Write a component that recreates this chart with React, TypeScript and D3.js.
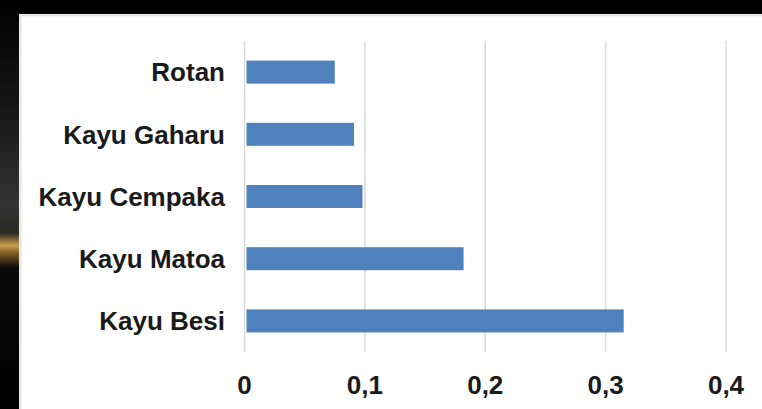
import * as d3 from "d3"

const categories = ["Rotan", "Kayu Gaharu", "Kayu Cempaka", "Kayu Matoa", "Kayu Besi"]
const values = [0.075, 0.091, 0.098, 0.182, 0.315]
const ticks = [0, 0.1, 0.2, 0.3, 0.4]
const tickLabels = ["0", "0,1", "0,2", "0,3", "0,4"]

const W = 762, H = 409
const font = "'Liberation Sans', Arial, sans-serif"

export default function App() {
  const x = d3.scaleLinear().domain([0, 0.4]).range([244.5, 726])
  const y = d3.scaleBand<string>().domain(categories).range([41, 352]).paddingInner(0.63).paddingOuter(0.315)

  return (
    <svg width={W} height={H} style={{ position: "absolute", left: 0, top: 0, background: "#000" }}>
      <defs>
        <linearGradient id="side" x1="0" y1="0" x2="0" y2="1">
          <stop offset="0" stopColor="#000" />
          <stop offset="0.3" stopColor="#1a1a1a" />
          <stop offset="0.5" stopColor="#333" />
          <stop offset="0.57" stopColor="#2a2a22" />
          <stop offset="0.6" stopColor="#c9a050" />
          <stop offset="0.62" stopColor="#7a5a20" />
          <stop offset="0.655" stopColor="#0a0a0a" />
          <stop offset="1" stopColor="#000" />
        </linearGradient>
      </defs>
      <rect x={0} y={0} width={20} height={H} fill="url(#side)" />
      <rect x={19} y={14} width={W - 19} height={H - 14} fill="#fff" />
      <line x1={19} x2={W} y1={15.5} y2={15.5} stroke="#e2e2e2" strokeWidth={2} />
      <line x1={20.5} x2={20.5} y1={15} y2={H} stroke="#e2e2e2" strokeWidth={2} />

      {ticks.map(t => (
        <line key={t} x1={x(t)} x2={x(t)} y1={41} y2={352} stroke="#d9d9d9" strokeWidth={1.5} />
      ))}

      {categories.map((c, i) => (
        <rect key={c} x={x(0) + 2} y={y(c)!} width={x(values[i]) - x(0) - 2} height={y.bandwidth()} fill="#4f81bd" />
      ))}

      <g fontFamily={font} fontWeight="bold" fill="#1a1a1a">
        {categories.map(c => (
          <text key={c} x={225} y={y(c)! + y.bandwidth() / 2} dy="0.36em" textAnchor="end" fontSize={26}>
            {c}
          </text>
        ))}
        {ticks.map((t, i) => (
          <text key={t} x={x(t)} y={394} textAnchor="middle" fontSize={26}>
            {tickLabels[i]}
          </text>
        ))}
      </g>
    </svg>
  )
}
